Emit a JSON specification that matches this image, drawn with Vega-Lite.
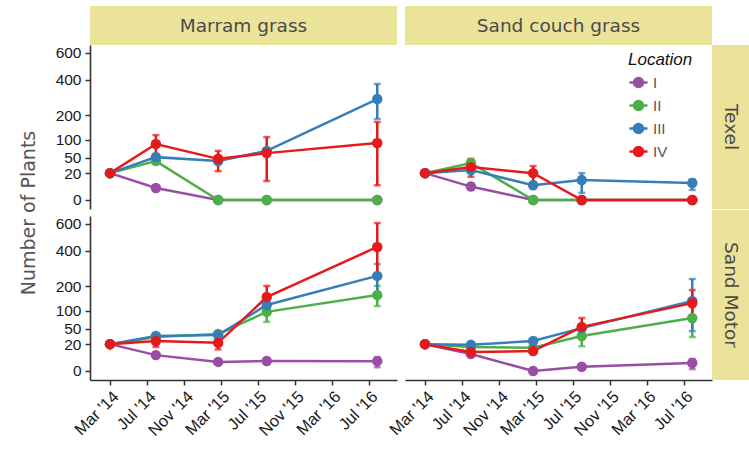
{
  "$schema": "https://vega.github.io/schema/vega-lite/v6.json",
  "padding": {"left": 19, "top": 6, "right": 0, "bottom": 0},
  "spacing": 0,
  "config": {
    "view": {"stroke": null},
    "font": "Liberation Sans",
    "axis": {"domainColor": "#333333", "domainWidth": 1.6, "tickColor": "#333333", "tickWidth": 1.5, "tickSize": 5, "labelColor": "#1a1a1a", "labelFont": "Liberation Sans", "grid": false, "labelOverlap": false}
  },
  "datasets": {
    "plants": [
      {"site": "Texel", "species": "Marram grass", "loc": "I", "date": "2014-03-01", "v": 20},
      {"site": "Texel", "species": "Marram grass", "loc": "I", "date": "2014-07-30", "v": 4},
      {"site": "Texel", "species": "Marram grass", "loc": "I", "date": "2015-02-20", "v": 0},
      {"site": "Texel", "species": "Marram grass", "loc": "I", "date": "2015-07-30", "v": 0},
      {"site": "Texel", "species": "Marram grass", "loc": "I", "date": "2016-07-28", "v": 0},
      {"site": "Texel", "species": "Marram grass", "loc": "II", "date": "2014-03-01", "v": 20},
      {"site": "Texel", "species": "Marram grass", "loc": "II", "date": "2014-07-30", "v": 42},
      {"site": "Texel", "species": "Marram grass", "loc": "II", "date": "2015-02-20", "v": 0},
      {"site": "Texel", "species": "Marram grass", "loc": "II", "date": "2015-07-30", "v": 0},
      {"site": "Texel", "species": "Marram grass", "loc": "II", "date": "2016-07-28", "v": 0},
      {"site": "Texel", "species": "Marram grass", "loc": "III", "date": "2014-03-01", "v": 20},
      {"site": "Texel", "species": "Marram grass", "loc": "III", "date": "2014-07-30", "v": 51},
      {"site": "Texel", "species": "Marram grass", "loc": "III", "date": "2015-02-20", "v": 42},
      {"site": "Texel", "species": "Marram grass", "loc": "III", "date": "2015-07-30", "v": 67},
      {"site": "Texel", "species": "Marram grass", "loc": "III", "date": "2016-07-28", "v": 283, "lo": 182, "hi": 374},
      {"site": "Texel", "species": "Marram grass", "loc": "IV", "date": "2014-03-01", "v": 20},
      {"site": "Texel", "species": "Marram grass", "loc": "IV", "date": "2014-07-30", "v": 87, "lo": 59, "hi": 117},
      {"site": "Texel", "species": "Marram grass", "loc": "IV", "date": "2015-02-20", "v": 47, "lo": 23, "hi": 67},
      {"site": "Texel", "species": "Marram grass", "loc": "IV", "date": "2015-07-30", "v": 61, "lo": 10, "hi": 110},
      {"site": "Texel", "species": "Marram grass", "loc": "IV", "date": "2016-07-28", "v": 90, "lo": 6, "hi": 169},

      {"site": "Texel", "species": "Sand couch grass", "loc": "I", "date": "2014-03-01", "v": 20},
      {"site": "Texel", "species": "Sand couch grass", "loc": "I", "date": "2014-07-30", "v": 5},
      {"site": "Texel", "species": "Sand couch grass", "loc": "I", "date": "2015-02-20", "v": 0},
      {"site": "Texel", "species": "Sand couch grass", "loc": "I", "date": "2015-07-30", "v": 0},
      {"site": "Texel", "species": "Sand couch grass", "loc": "I", "date": "2016-07-28", "v": 0},
      {"site": "Texel", "species": "Sand couch grass", "loc": "II", "date": "2014-03-01", "v": 20},
      {"site": "Texel", "species": "Sand couch grass", "loc": "II", "date": "2014-07-30", "v": 38},
      {"site": "Texel", "species": "Sand couch grass", "loc": "II", "date": "2015-02-20", "v": 0},
      {"site": "Texel", "species": "Sand couch grass", "loc": "II", "date": "2015-07-30", "v": 0},
      {"site": "Texel", "species": "Sand couch grass", "loc": "II", "date": "2016-07-28", "v": 0},
      {"site": "Texel", "species": "Sand couch grass", "loc": "III", "date": "2014-03-01", "v": 20},
      {"site": "Texel", "species": "Sand couch grass", "loc": "III", "date": "2014-07-30", "v": 25},
      {"site": "Texel", "species": "Sand couch grass", "loc": "III", "date": "2015-02-20", "v": 6},
      {"site": "Texel", "species": "Sand couch grass", "loc": "III", "date": "2015-07-30", "v": 11, "lo": 1.4, "hi": 20},
      {"site": "Texel", "species": "Sand couch grass", "loc": "III", "date": "2016-07-28", "v": 8, "lo": 2.8, "hi": 12},
      {"site": "Texel", "species": "Sand couch grass", "loc": "IV", "date": "2014-03-01", "v": 20},
      {"site": "Texel", "species": "Sand couch grass", "loc": "IV", "date": "2014-07-30", "v": 30, "lo": 15, "hi": 47},
      {"site": "Texel", "species": "Sand couch grass", "loc": "IV", "date": "2015-02-20", "v": 20, "lo": 9, "hi": 32},
      {"site": "Texel", "species": "Sand couch grass", "loc": "IV", "date": "2015-07-30", "v": 0},
      {"site": "Texel", "species": "Sand couch grass", "loc": "IV", "date": "2016-07-28", "v": 0},

      {"site": "Sand Motor", "species": "Marram grass", "loc": "I", "date": "2014-03-01", "v": 20},
      {"site": "Sand Motor", "species": "Marram grass", "loc": "I", "date": "2014-07-30", "v": 7},
      {"site": "Sand Motor", "species": "Marram grass", "loc": "I", "date": "2015-02-20", "v": 2.3},
      {"site": "Sand Motor", "species": "Marram grass", "loc": "I", "date": "2015-07-30", "v": 2.8},
      {"site": "Sand Motor", "species": "Marram grass", "loc": "I", "date": "2016-07-28", "v": 2.7, "lo": 0.4, "hi": 5.4},
      {"site": "Sand Motor", "species": "Marram grass", "loc": "II", "date": "2014-03-01", "v": 20},
      {"site": "Sand Motor", "species": "Marram grass", "loc": "II", "date": "2014-07-30", "v": 32},
      {"site": "Sand Motor", "species": "Marram grass", "loc": "II", "date": "2015-02-20", "v": 38},
      {"site": "Sand Motor", "species": "Marram grass", "loc": "II", "date": "2015-07-30", "v": 97, "lo": 67, "hi": 132},
      {"site": "Sand Motor", "species": "Marram grass", "loc": "II", "date": "2016-07-28", "v": 160, "lo": 117, "hi": 201},
      {"site": "Sand Motor", "species": "Marram grass", "loc": "III", "date": "2014-03-01", "v": 20},
      {"site": "Sand Motor", "species": "Marram grass", "loc": "III", "date": "2014-07-30", "v": 34},
      {"site": "Sand Motor", "species": "Marram grass", "loc": "III", "date": "2015-02-20", "v": 36},
      {"site": "Sand Motor", "species": "Marram grass", "loc": "III", "date": "2015-07-30", "v": 121},
      {"site": "Sand Motor", "species": "Marram grass", "loc": "III", "date": "2016-07-28", "v": 251, "lo": 165, "hi": 318},
      {"site": "Sand Motor", "species": "Marram grass", "loc": "IV", "date": "2014-03-01", "v": 20},
      {"site": "Sand Motor", "species": "Marram grass", "loc": "IV", "date": "2014-07-30", "v": 25, "lo": 16, "hi": 34},
      {"site": "Sand Motor", "species": "Marram grass", "loc": "IV", "date": "2015-02-20", "v": 22, "lo": 13, "hi": 34},
      {"site": "Sand Motor", "species": "Marram grass", "loc": "IV", "date": "2015-07-30", "v": 152, "lo": 107, "hi": 201},
      {"site": "Sand Motor", "species": "Marram grass", "loc": "IV", "date": "2016-07-28", "v": 427, "lo": 245, "hi": 608},

      {"site": "Sand Motor", "species": "Sand couch grass", "loc": "I", "date": "2014-03-01", "v": 20},
      {"site": "Sand Motor", "species": "Sand couch grass", "loc": "I", "date": "2014-07-30", "v": 8},
      {"site": "Sand Motor", "species": "Sand couch grass", "loc": "I", "date": "2015-02-20", "v": 0},
      {"site": "Sand Motor", "species": "Sand couch grass", "loc": "I", "date": "2015-07-30", "v": 0.5},
      {"site": "Sand Motor", "species": "Sand couch grass", "loc": "I", "date": "2016-07-28", "v": 1.8, "lo": 0.1, "hi": 4},
      {"site": "Sand Motor", "species": "Sand couch grass", "loc": "II", "date": "2014-03-01", "v": 20},
      {"site": "Sand Motor", "species": "Sand couch grass", "loc": "II", "date": "2014-07-30", "v": 16},
      {"site": "Sand Motor", "species": "Sand couch grass", "loc": "II", "date": "2015-02-20", "v": 15},
      {"site": "Sand Motor", "species": "Sand couch grass", "loc": "II", "date": "2015-07-30", "v": 34, "lo": 17, "hi": 54},
      {"site": "Sand Motor", "species": "Sand couch grass", "loc": "II", "date": "2016-07-28", "v": 78, "lo": 32, "hi": 114},
      {"site": "Sand Motor", "species": "Sand couch grass", "loc": "III", "date": "2014-03-01", "v": 20},
      {"site": "Sand Motor", "species": "Sand couch grass", "loc": "III", "date": "2014-07-30", "v": 19},
      {"site": "Sand Motor", "species": "Sand couch grass", "loc": "III", "date": "2015-02-20", "v": 25},
      {"site": "Sand Motor", "species": "Sand couch grass", "loc": "III", "date": "2015-07-30", "v": 51},
      {"site": "Sand Motor", "species": "Sand couch grass", "loc": "III", "date": "2016-07-28", "v": 136, "lo": 44, "hi": 235},
      {"site": "Sand Motor", "species": "Sand couch grass", "loc": "IV", "date": "2014-03-01", "v": 20},
      {"site": "Sand Motor", "species": "Sand couch grass", "loc": "IV", "date": "2014-07-30", "v": 10},
      {"site": "Sand Motor", "species": "Sand couch grass", "loc": "IV", "date": "2015-02-20", "v": 11},
      {"site": "Sand Motor", "species": "Sand couch grass", "loc": "IV", "date": "2015-07-30", "v": 54, "lo": 34, "hi": 78},
      {"site": "Sand Motor", "species": "Sand couch grass", "loc": "IV", "date": "2016-07-28", "v": 128, "lo": 69, "hi": 182}
    ]
  },
  "hconcat": [
    {
      "spacing": 0,
      "vconcat": [
        {
          "spacing": 8,
          "hconcat": [
            {
              "width": 307, "height": 39,
              "view": {"fill": "#ece39a", "stroke": null},
              "data": {"values": [{"label": "Marram grass"}]},
              "mark": {"type": "text", "font": "DejaVu Sans", "fontSize": 18.5, "color": "#4a4a4a"},
              "encoding": {"text": {"field": "label"}}
            },
            {
              "width": 307, "height": 39,
              "view": {"fill": "#ece39a", "stroke": null},
              "data": {"values": [{"label": "Sand couch grass"}]},
              "mark": {"type": "text", "font": "DejaVu Sans", "fontSize": 18.5, "color": "#4a4a4a"},
              "encoding": {"text": {"field": "label"}}
            }
          ]
        },
        {
          "data": {"name": "plants"},
          "facet": {
            "row": {"field": "site", "type": "nominal", "sort": ["Texel", "Sand Motor"],
              "header": {"labels": false, "title": "Number of Plants", "titleFont": "DejaVu Sans", "titleFontSize": 19, "titleColor": "#555555", "titleFontWeight": "normal", "titlePadding": 6}},
            "column": {"field": "species", "type": "nominal", "sort": ["Marram grass", "Sand couch grass"],
              "header": {"labels": false, "title": null}}
          },
          "spacing": {"row": 7, "column": 8},
          "spec": {
            "width": 307, "height": 164,
            "encoding": {
              "x": {"field": "date", "type": "temporal",
                "scale": {"domain": [{"year": 2013, "month": 12, "date": 25}, {"year": 2016, "month": 10, "date": 1}], "nice": false},
                "axis": {"title": null, "format": "%b '%y", "labelAngle": -45, "labelFontSize": 16.5, "labelPadding": 3, "labelOverlap": false, "tickCount": 20,
                  "values": [
                    {"year": 2014, "month": 3, "date": 1}, {"year": 2014, "month": 7, "date": 1}, {"year": 2014, "month": 11, "date": 1},
                    {"year": 2015, "month": 3, "date": 1}, {"year": 2015, "month": 7, "date": 1}, {"year": 2015, "month": 11, "date": 1},
                    {"year": 2016, "month": 3, "date": 1}, {"year": 2016, "month": 7, "date": 1}]}},
              "color": {"field": "loc", "type": "nominal",
                "scale": {"domain": ["I", "II", "III", "IV"], "range": ["#984ea3", "#4daf4a", "#377eb8", "#e41a1c"]},
                "legend": {"orient": "none", "legendX": 538, "legendY": 46, "title": "Location",
                  "titleFont": "Liberation Sans", "titleFontStyle": "italic", "titleFontWeight": "normal", "titleFontSize": 17, "titleColor": "#111111", "titlePadding": 3,
                  "labelFont": "Liberation Sans", "labelFontSize": 15, "labelColor": "#555555", "labelOffset": 4,
                  "symbolType": "M-1,0L1,0M-0.5,0A0.5,0.5,0,1,1,0.5,0A0.5,0.5,0,1,1,-0.5,0Z", "symbolSize": 324, "symbolStrokeWidth": 2.5, "rowPadding": 3,
                  "encode": {"symbols": {"update": {"fill": {"scale": "color", "field": "value"}, "stroke": {"scale": "color", "field": "value"}, "opacity": {"value": 1}}}}}}
            },
            "layer": [
              {
                "mark": {"type": "line", "strokeWidth": 2.5},
                "encoding": {"y": {"field": "v", "type": "quantitative",
                  "scale": {"type": "sqrt", "domain": [-2.25, 667], "nice": false, "zero": false},
                  "axis": {"title": null, "values": [0, 20, 50, 100, 200, 400, 600], "tickCount": 20, "labelOverlap": false, "labelFontSize": 15.5, "labelPadding": 4}}}
              },
              {
                "mark": {"type": "rule", "color": "#2f2632", "strokeWidth": 2.2},
                "encoding": {"y": {"datum": 0}}
              },
              {
                "transform": [{"filter": "datum.lo != null"}],
                "mark": {"type": "errorbar", "thickness": 2.5, "ticks": {"size": 7, "thickness": 2.5}},
                "encoding": {"y": {"field": "lo", "type": "quantitative"}, "y2": {"field": "hi"}}
              },
              {
                "mark": {"type": "point", "filled": true, "size": 110, "opacity": 1},
                "encoding": {"y": {"field": "v", "type": "quantitative"}}
              }
            ]
          }
        }
      ]
    },
    {
      "spacing": 1,
      "vconcat": [
        {
          "width": 37, "height": 38,
          "data": {"values": [{"label": ""}]},
          "mark": {"type": "text"},
          "encoding": {"text": {"field": "label"}}
        },
        {
          "width": 37, "height": 164,
          "view": {"fill": "#ece39a", "stroke": null},
          "data": {"values": [{"label": "Texel"}]},
          "mark": {"type": "text", "font": "DejaVu Sans", "fontSize": 18.5, "color": "#4a4a4a", "angle": 90},
          "encoding": {"text": {"field": "label"}}
        },
        {
          "width": 37, "height": 170,
          "view": {"fill": "#ece39a", "stroke": null},
          "data": {"values": [{"label": "Sand Motor"}]},
          "mark": {"type": "text", "font": "DejaVu Sans", "fontSize": 18.5, "color": "#4a4a4a", "angle": 90},
          "encoding": {"text": {"field": "label"}}
        }
      ]
    }
  ]
}
